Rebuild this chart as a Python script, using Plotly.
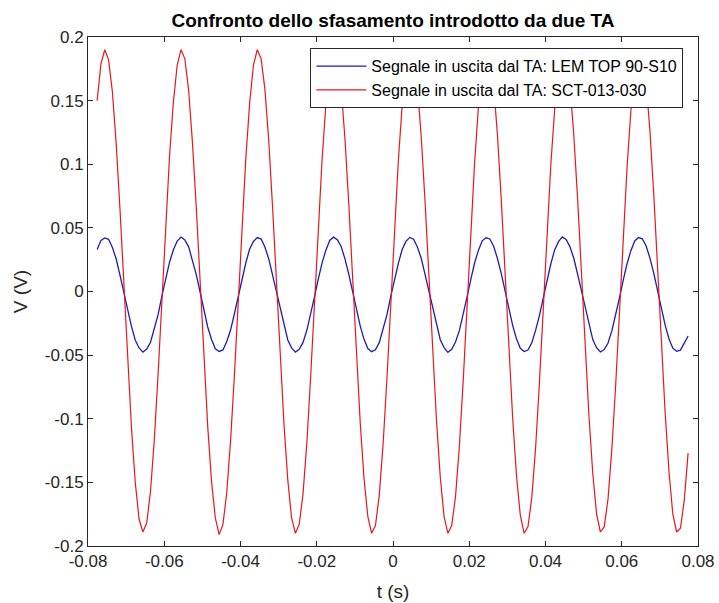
import numpy as np
import plotly.graph_objects as go

# Sampling grid of the acquisition (1 ms step)
T_START = -0.0776
DT = 0.001

# Output of current transformer LEM TOP 90-S10 (V), one row per period
lem_top = [
    0.0330, 0.0402, 0.0421, 0.0410, 0.0345, 0.0255, 0.0126, -0.0008, -0.0153, -0.0274,
    -0.0383, -0.0444, -0.0477, -0.0452, -0.0399, -0.0297, -0.0180, -0.0035, 0.0099, 0.0232,
    0.0328, 0.0396, 0.0428, 0.0405, 0.0351, 0.0250, 0.0133, -0.0004, -0.0148, -0.0279,
    -0.0377, -0.0450, -0.0471, -0.0459, -0.0393, -0.0303, -0.0175, -0.0041, 0.0104, 0.0226,
    0.0334, 0.0393, 0.0424, 0.0412, 0.0349, 0.0258, 0.0131, 0.0001, -0.0145, -0.0271,
    -0.0381, -0.0443, -0.0476, -0.0455, -0.0400, -0.0305, -0.0182, -0.0042, 0.0097, 0.0225,
    0.0325, 0.0401, 0.0427, 0.0407, 0.0354, 0.0256, 0.0136, 0.0002, -0.0146, -0.0270,
    -0.0376, -0.0448, -0.0473, -0.0458, -0.0402, -0.0302, -0.0184, -0.0040, 0.0099, 0.0221,
    0.0330, 0.0394, 0.0425, 0.0411, 0.0350, 0.0261, 0.0134, 0.0005, -0.0141, -0.0272,
    -0.0379, -0.0441, -0.0478, -0.0454, -0.0397, -0.0308, -0.0186, -0.0046, 0.0094, 0.0224,
    0.0323, 0.0398, 0.0422, 0.0413, 0.0356, 0.0259, 0.0140, 0.0003, -0.0139, -0.0268,
    -0.0374, -0.0446, -0.0472, -0.0460, -0.0403, -0.0306, -0.0189, -0.0049, 0.0096, 0.0218,
    0.0327, 0.0392, 0.0429, 0.0409, 0.0353, 0.0263, 0.0138, 0.0008, -0.0142, -0.0265,
    -0.0378, -0.0442, -0.0475, -0.0457, -0.0405, -0.0310, -0.0187, -0.0051, 0.0091, 0.0220,
    0.0321, 0.0397, 0.0424, 0.0414, 0.0357, 0.0262, 0.0143, 0.0006, -0.0137, -0.0266,
    -0.0373, -0.0445, -0.0470, -0.0461, -0.0406, -0.0350,
]

# Output of current transformer SCT-013-030 (V)
sct_013 = [
    0.150, 0.179, 0.190, 0.182, 0.157, 0.116, 0.064, 0.006, -0.053, -0.107,
    -0.150, -0.179, -0.189, -0.182, -0.157, -0.116, -0.064, -0.006, 0.053, 0.107,
    0.149, 0.178, 0.190, 0.183, 0.158, 0.117, 0.066, 0.008, -0.051, -0.106,
    -0.149, -0.178, -0.191, -0.183, -0.158, -0.117, -0.066, -0.008, 0.051, 0.105,
    0.148, 0.178, 0.190, 0.183, 0.159, 0.119, 0.067, 0.010, -0.050, -0.104,
    -0.148, -0.178, -0.190, -0.183, -0.159, -0.119, -0.067, -0.010, 0.050, 0.104,
    0.147, 0.177, 0.190, 0.184, 0.160, 0.120, 0.069, 0.011, -0.048, -0.103,
    -0.147, -0.177, -0.190, -0.184, -0.160, -0.120, -0.069, -0.011, 0.048, 0.103,
    0.146, 0.177, 0.190, 0.184, 0.161, 0.122, 0.071, 0.013, -0.046, -0.101,
    -0.146, -0.177, -0.190, -0.184, -0.161, -0.122, -0.071, -0.013, 0.046, 0.101,
    0.145, 0.176, 0.189, 0.184, 0.162, 0.123, 0.072, 0.015, -0.045, -0.100,
    -0.145, -0.176, -0.190, -0.185, -0.162, -0.123, -0.072, -0.015, 0.045, 0.100,
    0.143, 0.175, 0.189, 0.185, 0.163, 0.124, 0.074, 0.017, -0.043, -0.098,
    -0.143, -0.175, -0.189, -0.185, -0.163, -0.124, -0.074, -0.017, 0.043, 0.098,
    0.142, 0.175, 0.189, 0.185, 0.164, 0.126, 0.076, 0.019, -0.041, -0.096,
    -0.142, -0.175, -0.189, -0.186, -0.164, -0.127,
]

x_tick_vals = [-0.08, -0.06, -0.04, -0.02, 0, 0.02, 0.04, 0.06, 0.08]
x_tick_text = ["-0.08", "-0.06", "-0.04", "-0.02", "0", "0.02", "0.04", "0.06", "0.08"]
y_tick_vals = [0.2, 0.15, 0.1, 0.05, 0, -0.05, -0.1, -0.15, -0.2]
y_tick_text = ["0.2", "0.15", "0.1", "0.05", "0", "-0.05", "-0.1", "-0.15", "-0.2"]

t = T_START + DT * np.arange(len(sct_013))

FONT = "Liberation Sans, Arial, sans-serif"
AX_COLOR = "#262626"

fig = go.Figure()
fig.add_trace(go.Scatter(
    x=t, y=lem_top, mode="lines",
    name="Segnale in uscita dal TA: LEM TOP 90-S10",
    line=dict(color="#1c1cb4", width=1.3),
))
fig.add_trace(go.Scatter(
    x=t, y=sct_013, mode="lines",
    name="Segnale in uscita dal TA: SCT-013-030",
    line=dict(color="#e8161e", width=1.2),
))

axis_common = dict(
    showgrid=False, zeroline=False, automargin=False,
    showline=True, linecolor=AX_COLOR, linewidth=1,
    mirror="allticks", ticks="inside", ticklen=5, tickcolor=AX_COLOR,
    tickfont=dict(family=FONT, size=17, color=AX_COLOR),
)

fig.update_layout(
    width=719, height=603,
    margin=dict(l=88, r=21, t=37, b=57),
    paper_bgcolor="white", plot_bgcolor="white",
    title=dict(
        text="<b>Confronto dello sfasamento introdotto da due TA</b>",
        font=dict(family=FONT, size=19, color="#000000"),
        x=0.5, xref="paper", xanchor="center",
        y=1 - 20.5 / 603, yref="container", yanchor="middle",
    ),
    xaxis=dict(
        range=[-0.08, 0.08], tickvals=x_tick_vals, ticktext=x_tick_text,
        title=dict(text="t (s)", font=dict(family=FONT, size=19, color=AX_COLOR), standoff=14),
        **axis_common,
    ),
    yaxis=dict(
        range=[-0.2, 0.2], tickvals=y_tick_vals, ticktext=y_tick_text,
        title=dict(text="V (V)", font=dict(family=FONT, size=19, color=AX_COLOR), standoff=12),
        **axis_common,
    ),
    legend=dict(
        x=0.976, xanchor="right", y=0.978, yanchor="top",
        bgcolor="white", bordercolor="#262626", borderwidth=1,
        font=dict(family=FONT, size=16, color="#000000"),
        tracegroupgap=0, itemwidth=50,
    ),
    showlegend=True,
)

fig.write_html("out.html")
